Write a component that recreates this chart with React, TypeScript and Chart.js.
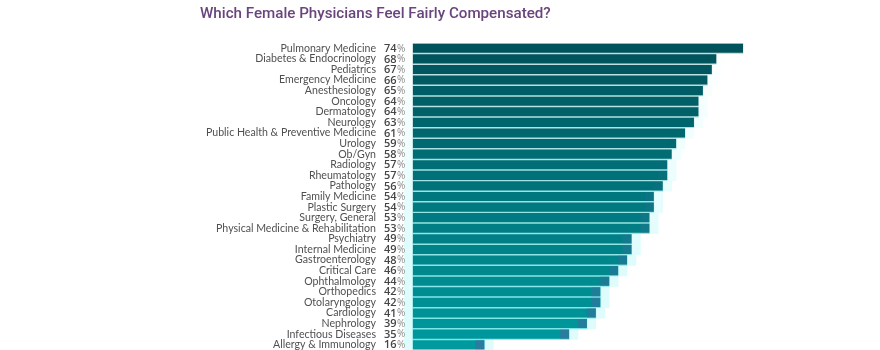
import React, { useEffect, useRef } from "react";
import { Chart, registerables } from "chart.js";

Chart.register(...registerables);

const title = "Which Female Physicians Feel Fairly Compensated?";

const categories = [
  "Pulmonary Medicine",
  "Diabetes & Endocrinology",
  "Pediatrics",
  "Emergency Medicine",
  "Anesthesiology",
  "Oncology",
  "Dermatology",
  "Neurology",
  "Public Health & Preventive Medicine",
  "Urology",
  "Ob/Gyn",
  "Radiology",
  "Rheumatology",
  "Pathology",
  "Family Medicine",
  "Plastic Surgery",
  "Surgery, General",
  "Physical Medicine & Rehabilitation",
  "Psychiatry",
  "Internal Medicine",
  "Gastroenterology",
  "Critical Care",
  "Ophthalmology",
  "Orthopedics",
  "Otolaryngology",
  "Cardiology",
  "Nephrology",
  "Infectious Diseases",
  "Allergy & Immunology",
];

const values = [74, 68, 67, 66, 65, 64, 64, 63, 61, 59, 58, 57, 57, 56, 54, 54, 53, 53, 49, 49, 48, 46, 44, 42, 42, 41, 39, 35, 16];

const n = categories.length;
const mix = (a: number[], b: number[], t: number, alpha = 1) =>
  `rgba(${a.map((v, i) => Math.round(v + (b[i] - v) * t)).join(",")},${alpha})`;
const tOf = (i: number) => i / (n - 1);

const barColors = values.map((_, i) => mix([0, 82, 91], [0, 154, 158], tOf(i)));
const gapColors = values.map((_, i) => mix([196, 222, 224], [120, 232, 232], tOf(i)));
const haloColors = values.map((_, i) => mix([255, 255, 255], [222, 252, 252], Math.min(1, tOf(i) * 1.4)));
const endColors = values.map((_, i) => mix([60, 105, 150], [70, 105, 160], tOf(i), Math.max(0, (tOf(i) - 0.3) * 0.85)));

const percentPlugin = {
  id: "percentLabels",
  afterDraw(chart: any) {
    const { ctx, chartArea } = chart;
    const y = chart.scales.y;
    ctx.save();
    ctx.textBaseline = "middle";
    ctx.textAlign = "left";
    values.forEach((v, i) => {
      const py = y.getPixelForValue(i) + 0.5;
      const x = chartArea.left - 20;
      ctx.font = "600 11px 'Open Sans'";
      ctx.fillStyle = "#454545";
      const num = String(v);
      ctx.fillText(num, x, py);
      const w = ctx.measureText(num).width;
      ctx.font = "10px 'Open Sans'";
      ctx.fillStyle = "#8a8a8a";
      ctx.fillText("%", x + w + 0.3, py);
    });
    ctx.restore();
  },
};

const titlePlugin = {
  id: "customTitle",
  afterDraw(chart: any) {
    const { ctx } = chart;
    ctx.save();
    ctx.font = "500 17px Roboto";
    const w = ctx.measureText(title).width;
    const size = (17 * 351) / w;
    ctx.font = `500 ${size.toFixed(2)}px Roboto`;
    ctx.fillStyle = "#6a447c";
    ctx.textBaseline = "middle";
    ctx.textAlign = "left";
    ctx.fillText(title, 200, 14);
    ctx.restore();
  },
};

export default function App() {
  const ref = useRef<HTMLCanvasElement | null>(null);
  useEffect(() => {
    document.body.style.margin = "0";
    if (!ref.current) return;
    const chart = new Chart(ref.current, {
      type: "bar",
      data: {
        labels: categories,
        datasets: [
          {
            label: "end",
            data: values.map((v) => [Math.max(0, v - 2), v]) as any,
            backgroundColor: endColors,
            barPercentage: 1,
            categoryPercentage: 0.86,
            grouped: false,
            order: 0,
          },
          {
            label: "Fairly compensated",
            data: values,
            backgroundColor: barColors,
            barPercentage: 1,
            categoryPercentage: 0.86,
            grouped: false,
            order: 1,
          },
          {
            label: "gap",
            data: values.map((v) => [0, v]) as any,
            backgroundColor: gapColors,
            barPercentage: 1,
            categoryPercentage: 1,
            grouped: false,
            order: 2,
          },
          {
            label: "halo",
            data: values.map((v) => [-2, v + 2]) as any,
            backgroundColor: haloColors,
            barPercentage: 1,
            categoryPercentage: 1,
            grouped: false,
            order: 3,
          },
        ],
      },
      options: {
        indexAxis: "y",
        animation: false,
        responsive: false,
        maintainAspectRatio: false,
        devicePixelRatio: 1,
        layout: { autoPadding: false, padding: { top: 43, right: 21, bottom: 0, left: 0 } },
        plugins: {
          legend: { display: false },
          tooltip: { enabled: false },
          title: { display: false },
        },
        scales: {
          x: {
            min: -2,
            max: 100,
            display: false,
            grid: { display: false },
          },
          y: {
            offset: true,
            border: { display: false },
            grid: { display: false, drawTicks: false },
            afterFit: (s: any) => {
              s.width = 404;
              s.paddingTop = 0;
              s.paddingBottom = 0;
            },
            ticks: {
              padding: 28,
              autoSkip: false,
              color: "#505050",
              font: { family: "Lato", size: 10.6 },
            },
          },
        },
      },
      plugins: [percentPlugin, titlePlugin],
    });
    return () => chart.destroy();
  }, []);
  return (
    <div style={{ width: 880, height: 350, background: "#fff" }}>
      <canvas ref={ref} width={880} height={350} style={{ display: "block" }} />
    </div>
  );
}
